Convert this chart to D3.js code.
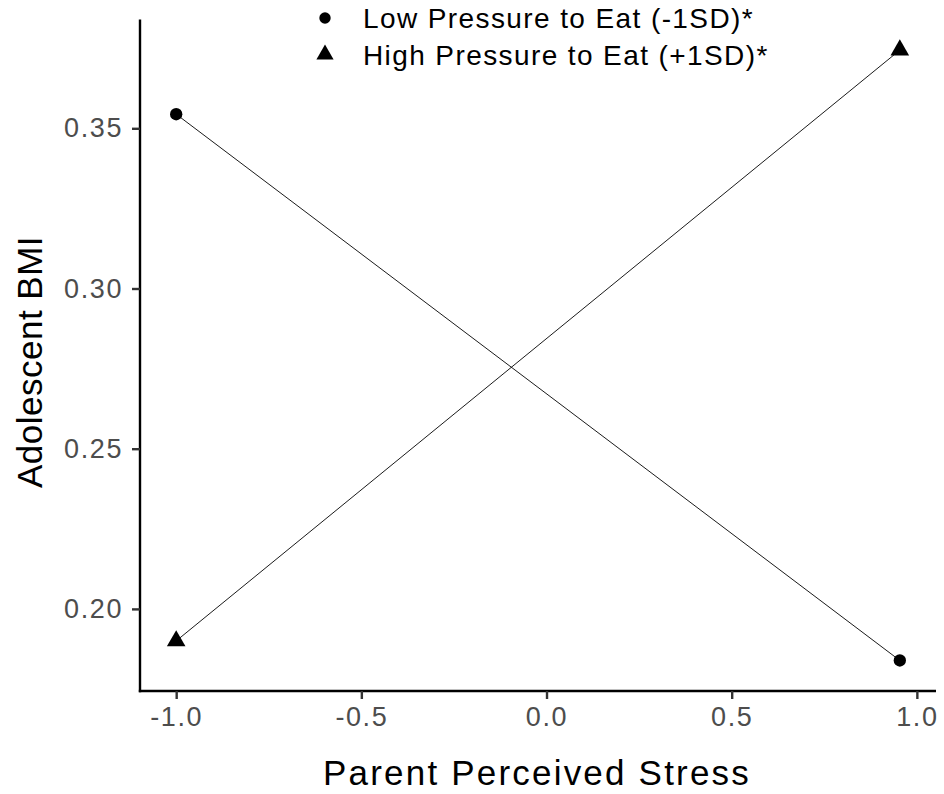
<!DOCTYPE html>
<html>
<head>
<meta charset="utf-8">
<script src="https://cdn.jsdelivr.net/npm/d3@7"></script>
<style>
  body { margin: 0; background: #fff; }
  svg { display: block; font-family: Arial, "Liberation Sans", sans-serif; }
</style>
</head>
<body>
<svg width="944" height="794"></svg>
<script>
// data
var stressX = [-1.0, 0.954];
var lowPressure = [0.3544, 0.1839];
var highPressure = [0.1900, 0.3744];
var xTicks = [-1.0, -0.5, 0.0, 0.5, 1.0];
var yTicks = [0.20, 0.25, 0.30, 0.35];
var seriesNames = ["Low Pressure to Eat (-1SD)*", "High Pressure to Eat (+1SD)*"];

(function () {
  var svg = d3.select("svg");

  var mLeft = 140, mRight = 936, mTop = 19.6, mBottom = 691;

  // ggplot-like 5% expansion
  function expand(ext) {
    var pad = (ext[1] - ext[0]) * 0.05;
    return [ext[0] - pad, ext[1] + pad];
  }

  var x = d3.scaleLinear()
    .domain(expand(d3.extent(stressX)))
    .range([mLeft, mRight]);

  var y = d3.scaleLinear()
    .domain(expand(d3.extent(lowPressure.concat(highPressure))))
    .range([mBottom, mTop]);

  // plain hyphen instead of unicode minus
  function fmt(spec) {
    var f = d3.format(spec);
    return function (d) { return f(d).replace("\u2212", "-"); };
  }

  var xAxis = d3.axisBottom(x)
    .tickValues(xTicks)
    .tickFormat(fmt(".1f"))
    .tickSizeInner(8)
    .tickSizeOuter(0)
    .tickPadding(8);

  var yAxis = d3.axisLeft(y)
    .tickValues(yTicks)
    .tickFormat(fmt(".2f"))
    .tickSizeInner(8)
    .tickSizeOuter(0)
    .tickPadding(9);

  var gx = svg.append("g")
    .attr("transform", "translate(0," + mBottom + ")")
    .call(xAxis);

  var gy = svg.append("g")
    .attr("transform", "translate(" + mLeft + ",0)")
    .call(yAxis);

  [gx, gy].forEach(function (g) {
    g.select(".domain").attr("stroke", "#000").attr("stroke-width", 2.4);
    g.selectAll(".tick line").attr("stroke", "#333").attr("stroke-width", 2.4);
    g.selectAll(".tick text")
      .attr("fill", "#4d4d4d")
      .attr("font-size", 27)
      .attr("letter-spacing", 1.6)
      .attr("font-family", "Arial, 'Liberation Sans', sans-serif");
  });
  gx.select(".domain").attr("d", "M" + (mLeft - 1.2) + ",0H" + mRight);
  gy.select(".domain").attr("d", "M0," + mTop + "V" + (mBottom + 1.2));

  // axis titles
  svg.append("text")
    .attr("x", (mLeft + mRight) / 2 - 1)
    .attr("y", 785)
    .attr("text-anchor", "middle")
    .attr("font-size", 35)
    .attr("letter-spacing", 2.2)
    .text("Parent Perceived Stress");

  svg.append("text")
    .attr("transform", "translate(42,362) rotate(-90)")
    .attr("text-anchor", "middle")
    .attr("font-size", 35)
    .attr("letter-spacing", 0.5)
    .text("Adolescent BMI");

  // lines and points
  var series = [lowPressure, highPressure];
  var shapes = [d3.symbolCircle, d3.symbolTriangle];
  var sizes = [120, 150];

  var line = d3.line()
    .x(function (d, i) { return x(stressX[i]); })
    .y(function (d) { return y(d); });

  series.forEach(function (vals, s) {
    svg.append("path")
      .datum(vals)
      .attr("d", line)
      .attr("fill", "none")
      .attr("stroke", "#000")
      .attr("stroke-width", 0.9);

    svg.selectAll(null)
      .data(vals)
      .enter().append("path")
      .attr("transform", function (d, i) {
        return "translate(" + x(stressX[i]) + "," + y(d) + ")";
      })
      .attr("d", d3.symbol().type(shapes[s]).size(sizes[s]))
      .attr("fill", "#000");
  });

  // legend
  var legend = svg.append("g").attr("transform", "translate(325,18)");
  seriesNames.forEach(function (name, i) {
    var row = legend.append("g").attr("transform", "translate(0," + i * 36.5 + ")");
    row.append("path")
      .attr("d", d3.symbol().type(shapes[i]).size(sizes[i] * 0.85))
      .attr("fill", "#000");
    row.append("text")
      .attr("x", 38)
      .attr("y", 10)
      .attr("font-size", 28)
      .attr("letter-spacing", 1.4)
      .text(name);
  });
})();
</script>
</body>
</html>
